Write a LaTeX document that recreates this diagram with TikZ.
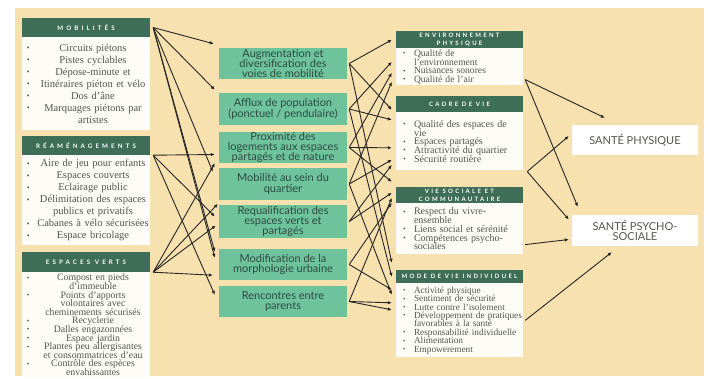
\documentclass[tikz,border=0pt]{standalone}
\usepackage{fontspec}
\usepackage{graphicx}
\setmainfont{Liberation Serif}
\newfontfamily\boxfont{Lato}
\newfontfamily\headfont[LetterSpace=50]{Lato}
\newfontfamily\headfontsmall[LetterSpace=38]{Lato}
\usetikzlibrary{positioning,calc,arrows.meta}

\definecolor{sand}{HTML}{F7E1AE}
\definecolor{pine}{HTML}{3E6E58}
\definecolor{mint}{HTML}{6EC39D}
\definecolor{paper}{HTML}{FEFCF6}
\definecolor{ink}{HTML}{555552}
\definecolor{deepink}{HTML}{2E4A40}

\newcommand{\tinybullet}{\raisebox{0.6pt}{\scalebox{0.75}{\textbullet}}}
\newcommand{\tightlines}{\lineskiplimit=-\maxdimen\parindent=0pt\parskip=0pt}
% centred lines, bullet on the left edge
\newcommand{\lrow}[2]{\makebox[14pt][l]{\hspace{4pt}#1}\makebox[112pt][c]{#2}\par}
\newcommand{\lfirst}[1]{\lrow{\tinybullet}{#1}}
\newcommand{\lnext}[1]{\lrow{}{#1}}
% left aligned lines
\newcommand{\rfirst}[1]{\makebox[17pt][l]{\hspace{6pt}\tinybullet}\mbox{#1}\par}
\newcommand{\rnext}[1]{\hspace*{17pt}\mbox{#1}\par}

\tikzset{
  banner/.style={fill=pine, text=white, minimum width=128pt, inner sep=0pt,
    font=\headfont\bfseries\fontsize{6.2}{7}\selectfont},
  smallbanner/.style={banner, minimum width=127pt, align=center,
    font=\headfontsmall\bfseries\fontsize{6}{8}\selectfont},
  listbox/.style={fill=paper, text=ink, text width=126pt, inner xsep=1pt, inner ysep=0pt,
    align=left, execute at begin node=\tightlines},
  rlistbox/.style={listbox, text width=125pt},
  effect/.style={fill=mint, text=deepink, minimum width=128pt, minimum height=31pt,
    inner sep=0pt, align=center, font=\boxfont\fontsize{11}{10.3}\selectfont},
  health/.style={fill=white, text=ink, minimum width=126pt, minimum height=30pt,
    inner sep=0pt, align=center, font=\boxfont\fontsize{11}{10.5}\selectfont},
  link/.style={-{Latex[length=4pt,width=3.5pt]}, line width=0.9pt, black!85},
}

\begin{document}
\begin{tikzpicture}[x=1pt,y=-1pt]
\useasboundingbox (0,0) rectangle (709,378);
\fill[white] (0,0) rectangle (709,378);
\fill[sand] (15,8) rectangle (704,376);

% actions
\node[banner, minimum height=19pt] (hMob) at (86,27.5) {MOBILITÉS};
\node[listbox, minimum height=93pt, below=0pt of hMob, font=\fontsize{10.5}{12}\selectfont] (bMob) {%
  \lfirst{Circuits piétons}
  \lfirst{Pistes cyclables}
  \lfirst{Dépose-minute et}
  \lfirst{Itinéraires piéton et vélo}
  \lfirst{Dos d'âne}
  \lfirst{Marquages piétons par}
  \lnext{artistes}};

\node[banner, minimum height=19pt] (hRea) at (86,145.5) {RÉAMÉNAGEMENTS};
\node[listbox, minimum height=90pt, below=0pt of hRea, font=\fontsize{10.5}{12}\selectfont] (bRea) {%
  \lfirst{Aire de jeu pour enfants}
  \lfirst{Espaces couverts}
  \lfirst{Eclairage public}
  \lfirst{Délimitation des espaces}
  \lnext{publics et privatifs}
  \lfirst{Cabanes à vélo sécurisées}
  \lfirst{Espace bricolage}};

\node[banner, minimum height=20pt] (hEsp) at (86,262) {ESPACES VERTS};
\node[listbox, minimum height=105pt, below=0pt of hEsp, font=\fontsize{9.8}{8.6}\selectfont] (bEsp) {%
  \lfirst{Compost en pieds}
  \lnext{d'immeuble}
  \lfirst{Points d'apports}
  \lnext{volontaires avec}
  \lnext{cheminements sécurisés}
  \lfirst{Recyclerie}
  \lfirst{Dalles engazonnées}
  \lfirst{Espace jardin}
  \lfirst{Plantes peu allergisantes}
  \lnext{et consommatrices d'eau}
  \lfirst{Contrôle des espèces}
  \lnext{envahissantes}};

% effets
\node[effect] (m1) at (283,63.5) {Augmentation et\\diversification des\\voies de mobilité};
\node[effect, minimum height=32pt] (m2) at (283,109) {Afflux de population\\(ponctuel / pendulaire)};
\node[effect] (m3) at (283,147.5) {Proximité des\\logements aux espaces\\partagés et de nature};
\node[effect, minimum height=32pt] (m4) at (283,184) {Mobilité au sein du\\quartier};
\node[effect, minimum height=33pt] (m5) at (283,221.5) {Requalification des\\espaces verts et\\partagés};
\node[effect] (m6) at (283,264.5) {Modification de la\\morphologie urbaine};
\node[effect] (m7) at (283,301.5) {Rencontres entre\\parents};

% determinants
\node[smallbanner, minimum height=17pt] (hEnv) at (459.5,39.5) {ENVIRONNEMENT\\PHYSIQUE};
\node[rlistbox, minimum height=37pt, below=0pt of hEnv, font=\fontsize{9.6}{8.6}\selectfont] (bEnv) {%
  \rfirst{Qualité de}
  \rnext{l'environnement}
  \rfirst{Nuisances sonores}
  \rfirst{Qualité de l'air}};

\node[smallbanner, minimum height=16pt] (hCdv) at (459.5,104) {CADRE DE VIE};
\node[rlistbox, minimum height=58pt, below=0pt of hCdv, font=\fontsize{10}{8.7}\selectfont] (bCdv) {%
  \rfirst{Qualité des espaces de}
  \rnext{vie}
  \rfirst{Espaces partagés}
  \rfirst{Attractivité du quartier}
  \rfirst{Sécurité routière}};

\node[smallbanner, minimum height=16pt] (hVs) at (459.5,195) {VIE SOCIALE ET\\COMMUNAUTAIRE};
\node[rlistbox, minimum height=51pt, below=0pt of hVs, font=\fontsize{10}{8.7}\selectfont] (bVs) {%
  \rfirst{Respect du vivre-}
  \rnext{ensemble}
  \rfirst{Liens social et sérénité}
  \rfirst{Compétences psycho-}
  \rnext{sociales}};

\node[smallbanner, minimum height=13pt] (hMdv) at (459.5,276.5) {MODE DE VIE INDIVIDUEL};
\node[rlistbox, minimum height=74pt, below=0pt of hMdv, font=\fontsize{9.3}{8.4}\selectfont] (bMdv) {%
  \rfirst{Activité physique}
  \rfirst{Sentiment de sécurité}
  \rfirst{Lutte contre l'isolement}
  \rfirst{Développement de pratiques}
  \rnext{favorables à la santé}
  \rfirst{Responsabilité individuelle}
  \rfirst{Alimentation}
  \rfirst{Empowerement}};

% sante
\node[health] (sP) at (635,140) {SANTÉ PHYSIQUE};
\node[health, minimum height=31pt] (sPs) at (635,230.5) {SANTÉ PSYCHO-\\SOCIALE};

% actions -> effets
\foreach \from/\to/\dx/\dy in {hMob.east/m1.north west/-5/-4, hMob.east/m2.north west/-4/-3,
    hMob.east/m4.north west/-6/4, hMob.east/m6.north west/-4/3, hMob.east/m6.north west/-4/9,
    hRea.south east/m3.west/-4/7, hRea.south east/m5.west/-4/-5, hRea.south east/m7.north west/-4/9,
    hEsp.south east/m3.south west/-4/0, hEsp.south east/m5.north west/-1/-1,
    hEsp.south east/m5.west/-3/4, hEsp.south east/m6.south west/-6/-5}
  \draw[link] ([xshift=3pt]\from) -- ($(\to)+(\dx,\dy)$);

% effets -> determinants
\foreach \src/\tgt/\off in {m1/hEnv/9, m1/hCdv/14, m1/hMdv/-7,
    m2/hEnv/31, m2/hCdv/24, m2/hMdv/7,
    m3/hEnv/42, m3/hCdv/52, m3/hVs/-5,
    m4/hEnv/51, m4/hCdv/64, m4/hMdv/25,
    m5/hCdv/69, m5/hVs/6,
    m6/hVs/16, m6/hMdv/20,
    m7/hVs/11, m7/hMdv/33, m7/hMdv/40}
  \draw[link] ([xshift=2pt]\src.east) -- ($(\tgt.north west)+(-4,\off)$);

% determinants -> sante
\draw[link] ($(bEnv.south east)+(2,-6)$) -- ($(sP.north west)+(33,-7)$);
\draw[link] ($(bEnv.south east)+(2,-6)$) -- ($(sPs.north west)+(6,-8)$);
\draw[link] ($(bCdv.south east)+(4,1)$) -- ($(sP.west)+(-3,-4)$);
\draw[link] ($(bCdv.south east)+(4,1)$) -- ($(sPs.west)+(-3,-11)$);
\draw[link] ($(bVs.south east)+(2,-10)$) -- ($(sPs.west)+(-3,9)$);
\draw[link] ([xshift=2pt]bMdv.east) -- ($(sPs.south west)+(40,6)$);
\end{tikzpicture}
\end{document}
